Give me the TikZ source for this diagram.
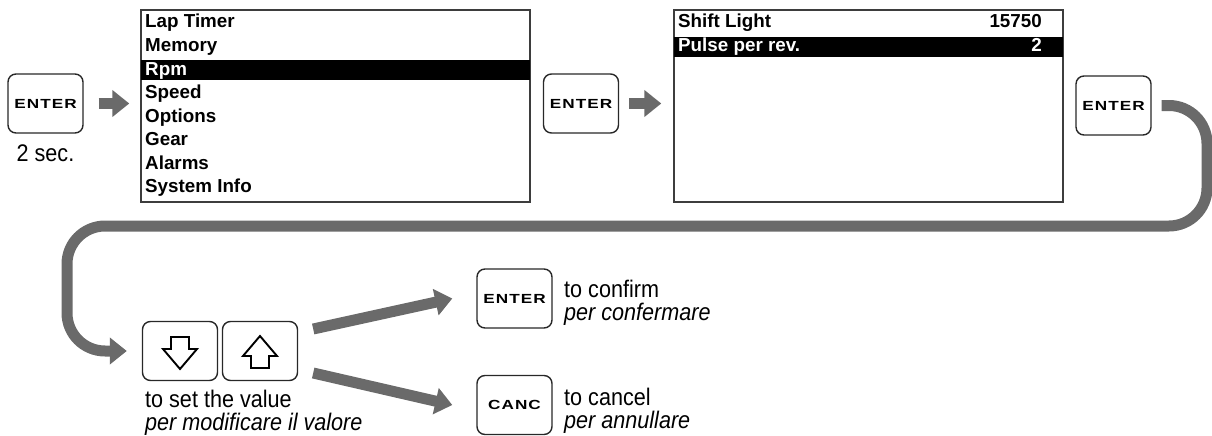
\documentclass[tikz,border=0pt]{standalone}
\usepackage{fontspec}
\setmainfont{Liberation Sans}
\newfontfamily\labelfont[FakeStretch=0.9]{Liberation Sans}
\newfontfamily\keyfont[FakeStretch=1.3,LetterSpace=8]{Liberation Sans}
\usetikzlibrary{arrows.meta}
\definecolor{flowgray}{RGB}{106,106,106}
\definecolor{edge}{RGB}{40,40,40}
\tikzset{
  key/.style={draw=edge, line width=1.4pt, rounded corners=8pt, fill=white,
    minimum width=75pt, minimum height=59pt, inner sep=0pt,
    font=\keyfont\bfseries\fontsize{13.2}{15}\selectfont},
  menu/.style={draw=edge!90, line width=1.4pt, minimum width=389pt,
    minimum height=192pt, inner sep=0pt},
  item/.style={anchor=base west, inner sep=0pt,
    font=\bfseries\fontsize{18.8}{20}\selectfont},
  value/.style={anchor=base east, inner sep=0pt,
    font=\bfseries\fontsize{18.8}{20}\selectfont},
  caption/.style={anchor=base west, inner sep=0pt,
    font=\labelfont\fontsize{24}{26}\selectfont},
  flow/.style={draw=flowgray, line width=11pt,
    -{Triangle[length=17pt,width=26pt]}},
  icon/.style={draw=black, line width=1.9pt, fill=white, line join=miter}
}
\begin{document}
\begin{tikzpicture}[x=1pt,y=-1pt]
\useasboundingbox (0,0) rectangle (1212,436);

% keys
\node[key] (k1) at (45.5,103.5) {ENTER};
\node[key] (k2) at (581,103.5) {ENTER};
\node[key] (k3) at (1113.5,105.5) {ENTER};
\node[key] (kdown) at (180,351) {};
\node[key] (kup) at (260,351) {};
\node[key] (kok) at (514.5,298.5) {ENTER};
\node[key] (kcanc) at (514.5,405) {CANC};

\node[caption, anchor=base] (hold) at ([yshift=-28pt]k1.south) {2 sec.};

% main menu
\node[menu] (m1) at (335.5,106) {};
\fill[black] (141,60) rectangle (530,80);
\node[item] (i1) at (145,28) {Lap Timer};
\node[item] (i2) at (145,51.5) {Memory};
\node[item, text=white] (i3) at (145,75) {Rpm};
\node[item] (i4) at (145,98.5) {Speed};
\node[item] (i5) at (145,122) {Options};
\node[item] (i6) at (145,145.5) {Gear};
\node[item] (i7) at (145,169) {Alarms};
\node[item] (i8) at (145,192.5) {System Info};

% rpm submenu
\node[menu] (m2) at (868.5,106) {};
\fill[black] (674,37) rectangle (1063,57);
\node[item] (s1) at (678,28) {Shift Light};
\node[value] (v1) at (1042,28) {15750};
\node[item, text=white] (s2) at (678,51.5) {Pulse per rev.};
\node[value, text=white] (v2) at (1042,51.5) {2};

% arrow glyphs on the up/down keys
\begin{scope}[shift={(kdown.center)}]
  \draw[icon] (-9,-14) -- (9,-14) -- (9,-2) -- (17,-2) -- (0,18) -- (-17,-2) -- (-9,-2) -- cycle;
\end{scope}
\begin{scope}[shift={(kup.center)}]
  \draw[icon] (0,-15) -- (17,5) -- (9,5) -- (9,17) -- (-9,17) -- (-9,5) -- (-17,5) -- cycle;
\end{scope}

% captions
\node[caption] (c1) at (145,407) {to set the value};
\node[caption] (c2) at (145,430) {\itshape per modificare il valore};
\node[caption] (c3) at (564,297) {to confirm};
\node[caption] (c4) at (564,320) {\itshape per confermare};
\node[caption] (c5) at (564,405) {to cancel};
\node[caption] (c6) at (564,428) {\itshape per annullare};

% flow arrows
\draw[flow, shorten <=15pt, shorten >=11pt] (k1.east) -- (k1.east -| m1.west);
\draw[flow, shorten <=10pt, shorten >=12pt] (k2.east) -- (k2.east -| m2.west);
\draw[flow, rounded corners=38pt] ([xshift=10pt]k3.east) -| (1207,226) -| (67,351)
  -- ([xshift=-15pt]kdown.west);
\draw[flow] ([shift={(15,-22)}]kup.east) -- ([xshift=-24pt]kok.west);
\draw[flow] ([shift={(15,22)}]kup.east) -- ([xshift=-24pt]kcanc.west);
\end{tikzpicture}
\end{document}
